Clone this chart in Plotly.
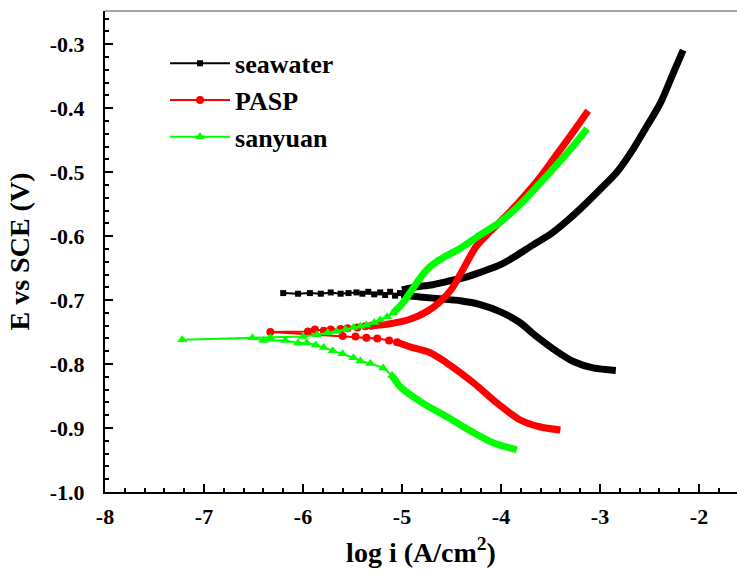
import plotly.graph_objects as go

# ---- seawater (black) ----
sw_cath_logi = [-2.84, -3.07, -3.27, -3.43, -3.64, -3.81, -4.01, -4.21, -4.41, -4.62, -4.82, -4.99]
sw_cath_e = [-0.810, -0.806, -0.796, -0.781, -0.757, -0.735, -0.718, -0.707, -0.701, -0.698, -0.695, -0.693]
sw_mid_logi = [-6.20, -6.05, -5.93, -5.82, -5.72, -5.62, -5.54, -5.46, -5.40, -5.34, -5.28,
               -5.22, -5.17, -5.12, -5.07, -5.02, -4.98]
sw_mid_e = [-0.689, -0.690, -0.689, -0.690, -0.688, -0.690, -0.689, -0.688, -0.690, -0.687, -0.691,
            -0.688, -0.692, -0.687, -0.693, -0.689, -0.692]
sw_anod_logi = [-5.00, -4.89, -4.69, -4.55, -4.35, -4.20, -4.01, -3.85, -3.68, -3.50, -3.34,
                -3.17, -3.00, -2.83, -2.67, -2.53, -2.39, -2.26, -2.16]
sw_anod_e = [-0.684, -0.680, -0.676, -0.671, -0.664, -0.656, -0.645, -0.631, -0.614, -0.597, -0.577,
             -0.553, -0.527, -0.500, -0.465, -0.429, -0.392, -0.345, -0.309]

# ---- PASP (red) ----
pasp_cath_logi = [-3.40, -3.61, -3.81, -4.04, -4.28, -4.55, -4.72, -4.92, -5.05]
pasp_cath_e = [-0.903, -0.898, -0.887, -0.861, -0.829, -0.798, -0.782, -0.773, -0.766]
pasp_mid_logi = [-5.05, -5.13, -5.25, -5.36, -5.47, -5.60, -6.33, -5.95, -5.88, -5.79, -5.72,
                 -5.62, -5.55, -5.45, -5.37, -5.31]
pasp_mid_e = [-0.766, -0.763, -0.760, -0.759, -0.757, -0.756, -0.750, -0.749, -0.746, -0.748, -0.746,
              -0.745, -0.744, -0.743, -0.741, -0.740]
pasp_anod_logi = [-5.31, -5.12, -4.92, -4.75, -4.62, -4.50, -4.38, -4.25, -4.11, -3.94, -3.78,
                  -3.61, -3.44, -3.27, -3.12]
pasp_anod_e = [-0.740, -0.737, -0.730, -0.718, -0.703, -0.683, -0.651, -0.616, -0.593, -0.567, -0.540,
               -0.509, -0.473, -0.437, -0.404]

# ---- sanyuan (green) ----
sy_cath_logi = [-3.84, -4.08, -4.28, -4.55, -4.79, -5.02, -5.10]
sy_cath_e = [-0.934, -0.923, -0.907, -0.882, -0.861, -0.835, -0.818]
sy_mid_logi = [-5.10, -5.19, -5.32, -5.42, -5.49, -5.60, -5.70, -5.79, -5.87, -5.96, -6.05,
               -6.18, -6.40, -6.51, -7.22, -6.33, -6.00, -5.86, -5.75, -5.66, -5.57, -5.49,
               -5.42, -5.36, -5.28, -5.22, -5.15, -5.09]
sy_mid_e = [-0.818, -0.806, -0.799, -0.795, -0.790, -0.784, -0.779, -0.774, -0.770, -0.767, -0.767,
            -0.763, -0.763, -0.759, -0.762, -0.759, -0.757, -0.754, -0.751, -0.749, -0.746, -0.743,
            -0.741, -0.739, -0.735, -0.731, -0.726, -0.720]
sy_anod_logi = [-5.09, -4.99, -4.89, -4.79, -4.72, -4.65, -4.59, -4.41, -4.21, -4.01, -3.81,
                -3.61, -3.44, -3.27, -3.13]
sy_anod_e = [-0.720, -0.704, -0.682, -0.660, -0.648, -0.640, -0.634, -0.619, -0.598, -0.578, -0.551,
             -0.518, -0.489, -0.459, -0.432]

x_tickvals = [-8, -7, -6, -5, -4, -3, -2]
x_ticktext = ["-8", "-7", "-6", "-5", "-4", "-3", "-2"]
y_tickvals = [-1.0, -0.9, -0.8, -0.7, -0.6, -0.5, -0.4, -0.3]
y_ticktext = ["-1.0", "-0.9", "-0.8", "-0.7", "-0.6", "-0.5", "-0.4", "-0.3"]

series = [
    ("seawater", "#000000", "square", 6, sw_cath_logi, sw_cath_e, sw_mid_logi, sw_mid_e, sw_anod_logi, sw_anod_e),
    ("PASP", "#ff0000", "circle", 8, pasp_cath_logi, pasp_cath_e, pasp_mid_logi, pasp_mid_e, pasp_anod_logi, pasp_anod_e),
    ("sanyuan", "#00ff00", "triangle-up", 9, sy_cath_logi, sy_cath_e, sy_mid_logi, sy_mid_e, sy_anod_logi, sy_anod_e),
]

fig = go.Figure()
for name, color, symbol, msize, cx, cy, mx, my, ax, ay in series:
    # dense cathodic and anodic branches
    for bx, by in ((cx, cy), (ax, ay)):
        fig.add_trace(go.Scatter(x=bx, y=by, mode="lines", showlegend=False,
                                 line=dict(color=color, width=7, shape="spline", smoothing=0.8),
                                 hoverinfo="skip"))
    # sparse points around the corrosion potential
    fig.add_trace(go.Scatter(x=mx, y=my, mode="lines+markers", name=name,
                             line=dict(color=color, width=2),
                             marker=dict(color=color, symbol=symbol, size=msize, line=dict(width=0))))

tick_font = dict(family="Liberation Serif", size=22, color="#000000")
title_font = dict(family="Liberation Serif", size=28, color="#000000")

fig.update_layout(
    width=737, height=574,
    margin=dict(l=105, r=0, t=11, b=82),
    paper_bgcolor="white", plot_bgcolor="white",
    showlegend=True,
    legend=dict(x=0.095, y=0.94, xanchor="left", yanchor="top",
                bgcolor="rgba(0,0,0,0)", itemwidth=60,
                font=dict(family="Liberation Serif", size=26, color="#000000", weight="bold")),
    xaxis=dict(range=[-8, -1.616], showgrid=False, zeroline=False,
               showline=True, linecolor="#000000", linewidth=2,
               ticks="inside", ticklen=8, tickwidth=1.5, tickcolor="#000000",
               tickvals=x_tickvals, ticktext=x_ticktext, ticklabelstandoff=4,
               minor=dict(dtick=0.2, ticks="inside", ticklen=4, tickwidth=1.5, tickcolor="#000000"),
               tickfont=dict(tick_font, weight="bold"),
               title=dict(text="log i (A/cm<sup>2</sup>)", standoff=14,
                          font=dict(title_font, weight="bold"))),
    yaxis=dict(range=[-1.0, -0.248], showgrid=False, zeroline=False,
               showline=True, linecolor="#000000", linewidth=2,
               ticks="inside", ticklen=8, tickwidth=1.5, tickcolor="#000000",
               tickvals=y_tickvals, ticktext=y_ticktext, ticklabelstandoff=14,
               minor=dict(dtick=0.02, ticks="inside", ticklen=4, tickwidth=1.5, tickcolor="#000000"),
               tickfont=dict(tick_font, weight="bold"),
               title=dict(text="E vs SCE (V)", standoff=12,
                          font=dict(title_font, weight="bold"))),
    shapes=[dict(type="line", xref="paper", yref="paper", x0=0, x1=1, y0=1, y1=1,
                 line=dict(color="#888888", width=1.5))],
)

fig.write_html("out.html")
